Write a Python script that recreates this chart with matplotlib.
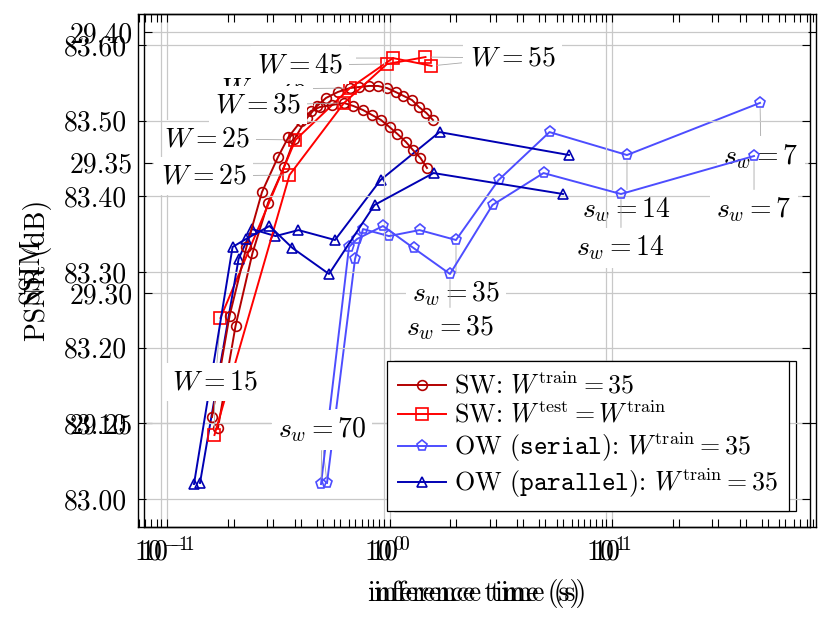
import matplotlib
matplotlib.use('Agg')
import matplotlib.pyplot as plt
from matplotlib.ticker import LogLocator, FixedLocator, FormatStrFormatter, NullFormatter

plt.rcParams.update({
    'font.family': 'serif', 'font.serif': ['cmr10'], 'mathtext.fontset': 'cm',
    'axes.formatter.use_mathtext': True, 'font.size': 20, 'axes.unicode_minus': False,
})

# ---------------- data ----------------
# SW with W_train = 35, W_test = 15..55 step 2
w_test = list(range(15, 57, 2))
t_sw = [0.1695, 0.2032, 0.2422, 0.2844, 0.3356, 0.3741, 0.4258, 0.4723, 0.5184, 0.5869, 0.6644,
        0.7330, 0.8088, 0.8877, 0.9744, 1.0641, 1.1559, 1.2622, 1.3569, 1.4665, 1.5686]
psnr_sw = [29.2482, 29.2873, 29.3153, 29.3345, 29.3483, 29.3591, 29.3671, 29.3717, 29.3748, 29.3771, 29.3786,
           29.3790, 29.3794, 29.3794, 29.3786, 29.3771, 29.3756, 29.3740, 29.3713, 29.3690, 29.3663]
ssim_sw = [83.1084, 83.2419, 83.3331, 83.4057, 83.4520, 83.4784, 83.4996, 83.5128, 83.5181, 83.5207, 83.5234,
           83.5194, 83.5141, 83.5075, 83.5009, 83.4916, 83.4824, 83.4718, 83.4612, 83.4507, 83.4375]

# SW with W_test = W_train
w_eq = [15, 25, 35, 45, 55]
t_eq = [0.1739, 0.3780, 0.6644, 1.0369, 1.5444]
psnr_eq = [29.2904, 29.3587, 29.3786, 29.3901, 29.3871]
ssim_eq = [83.0846, 83.4282, 83.5234, 83.5749, 83.5841]

# OW, strides
s_w = [70, 63, 56, 49, 42, 35, 28, 21, 14, 7]
t_ser = [0.5238, 0.6998, 0.7601, 0.9948, 1.3643, 1.9900, 3.0902, 5.2385, 11.677, 46.27]
t_par = [0.1407, 0.2097, 0.2410, 0.3073, 0.3899, 0.5689, 0.9111, 1.6779, 6.408]
psnr_ow = [29.2271, 29.3130, 29.3245, 29.3218, 29.3241, 29.3203, 29.3433, 29.3617, 29.3529, 29.3729]
ssim_ow = [83.0198, 83.3331, 83.3436, 83.3608, 83.3317, 83.2974, 83.3886, 83.4308, 83.4031, 83.4533]

psnr_ticks = [29.25, 29.30, 29.35, 29.40]
ssim_ticks = [83.00, 83.10, 83.20, 83.30, 83.40, 83.50, 83.60]

legend_labels = [r'SW: $W^{\mathrm{train}} = 35$',
                 r'SW: $W^{\mathrm{test}} = W^{\mathrm{train}}$',
                 r'OW ($\mathtt{serial}$): $W^{\mathrm{train}} = 35$',
                 r'OW ($\mathtt{parallel}$): $W^{\mathrm{train}} = 35$']

# pins: (series, index, dx, dy) offsets in pixels
pins_psnr = [('eq', 0, -5, -64), ('eq', 1, -89, 1), ('eq', 2, -86, -1), ('eq', 3, -86, 0),
             ('eq', 4, 80, 8), ('ow', 0, -6, 53), ('ow', 5, 0, -54), ('ow', 8, 0, -55), ('ow', 9, 1, -54)]
pins_ssim = [('eq', 0, 0, 53), ('eq', 1, -86, -1), ('eq', 2, -86, -2), ('eq', 3, -87, -1),
             ('eq', 4, 87, -1), ('ow', 0, 1, 54), ('ow', 5, 0, -54), ('ow', 8, 0, -54), ('ow', 9, 0, -54)]

c_sw = '#b30000'
c_eq = '#ff0000'
c_ser = '#4d4dff'
c_par = '#0000b3'

W, H = 831, 631
fig = plt.figure(figsize=(W / 100, H / 100), dpi=100)


def rect(l, t, r, b):
    return [l / W, 1 - b / H, (r - l) / W, (b - t) / H]


ax_p = fig.add_axes(rect(144, 14, 816, 527))
ax_s = fig.add_axes(rect(138, 14, 810, 527))
ax_s.set_zorder(ax_p.get_zorder() + 1)
ax_s.patch.set_alpha(0)


def style(ax, yvals, ylim, ticks, ylabel):
    ax.set_xscale('log')
    ax.set_xlim(10 ** -1.1034, 10 ** 1.9169)
    ax.set_ylim(*ylim)
    ax.yaxis.set_major_locator(FixedLocator(ticks))
    ax.yaxis.set_major_formatter(FormatStrFormatter('%.2f'))
    ax.xaxis.set_major_locator(LogLocator(base=10, numticks=10))
    ax.xaxis.set_minor_locator(LogLocator(base=10, subs=range(2, 10), numticks=20))
    ax.xaxis.set_minor_formatter(NullFormatter())
    ax.tick_params(which='both', direction='in', top=True, right=True, width=0.8, pad=8)
    ax.tick_params(which='major', length=6)
    ax.tick_params(which='minor', length=6)
    ax.grid(True, which='major', color='#c8c8c8', lw=0.9)
    ax.set_axisbelow(True)
    for sp in ax.spines.values():
        sp.set_linewidth(1.0)
    ax.text(-0.158, 0.5, ylabel, rotation=90, ha='center', va='center', transform=ax.transAxes)
    ax.text(0.5, -0.1287, 'inference time (s)', ha='center', va='center', transform=ax.transAxes)

    ysw, yeq, yow = yvals
    l1, = ax.plot(t_sw, ysw, color=c_sw, marker='o', ms=7, mfc='none', mew=1.2, lw=1.4, zorder=3)
    l2, = ax.plot(t_eq, yeq, color=c_eq, marker='s', ms=8, mfc='none', mew=1.2, lw=1.4, zorder=3)
    l3, = ax.plot(t_ser, yow, color=c_ser, marker='p', ms=8, mfc='none', mew=1.2, lw=1.4, zorder=3)
    l4, = ax.plot(t_par, yow[:len(t_par)], color=c_par, marker='^', ms=7.5, mfc='none', mew=1.2, lw=1.4, zorder=3)
    return [l1, l2, l3, l4]


hp = style(ax_p, (psnr_sw, psnr_eq, psnr_ow), (29.2102, 29.4070), psnr_ticks, 'PSNR (dB)')
hs = style(ax_s, (ssim_sw, ssim_eq, ssim_ow), (82.963, 83.641), ssim_ticks, 'SSIM')


def add_pins(ax, pins, yeq, yow):
    for ser, i, dx, dy in pins:
        if ser == 'eq':
            xy = (t_eq[i], yeq[i]); txt = r'$W = %d$' % w_eq[i]
        else:
            xy = (t_ser[i], yow[i]); txt = r'$s_w = %d$' % s_w[i]
        ax.annotate(txt, xy=xy, xytext=(dx, dy), textcoords='offset pixels', ha='center', va='center',
                    bbox=dict(boxstyle='square,pad=0.22', fc='white', ec='none'),
                    arrowprops=dict(arrowstyle='-', color='#a8a8a8', lw=0.6, shrinkA=0, shrinkB=4),
                    zorder=5)


add_pins(ax_p, pins_psnr, psnr_eq, psnr_ow)
add_pins(ax_s, pins_ssim, ssim_eq, ssim_ow)

for ax, h, bx in ((ax_p, hp, (796 - 144) / 672), (ax_s, hs, (789 - 138) / 672)):
    leg = ax.legend(h, legend_labels, loc='lower right', bbox_to_anchor=(bx, 16 / 513), borderaxespad=0,
                    fancybox=False, framealpha=1, edgecolor='black', handlelength=1.85, handletextpad=0.3,
                    labelspacing=0.1, borderpad=0.42, fontsize=18.7)
    leg.get_frame().set_linewidth(0.9)
    leg.set_zorder(10)

fig.savefig('out.png', dpi=100)
